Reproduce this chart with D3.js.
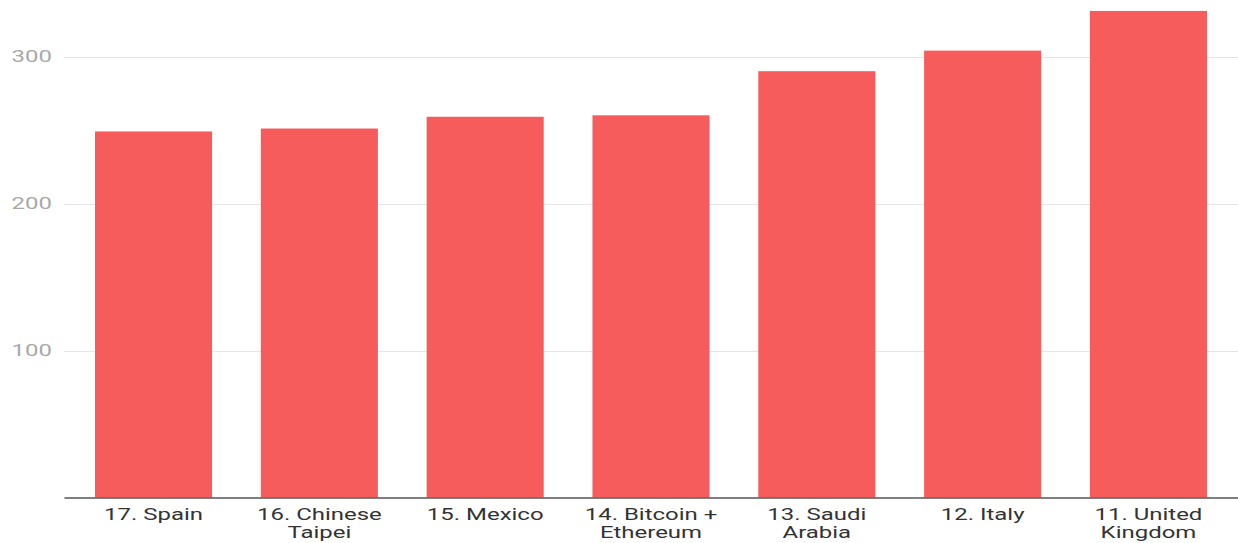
<!DOCTYPE html>
<html>
<head>
<meta charset="utf-8">
<script src="https://cdn.jsdelivr.net/npm/d3@7"></script>
<style>
  body { margin: 0; background: #fff; }
  svg { display: block; font-family: Roboto, sans-serif; }
</style>
</head>
<body>
<svg id="chart"></svg>
<script>
// Categories (label lines split with \n) and values
var categories = [
  "17. Spain",
  "16. Chinese\nTaipei",
  "15. Mexico",
  "14. Bitcoin +\nEthereum",
  "13. Saudi\nArabia",
  "12. Italy",
  "11. United\nKingdom"
];
var values = [249, 251, 259, 260, 290, 304, 331];
var yTicks = [100, 200, 300];

var width = 1238,
  height = 543;

// the original picture is stretched sideways, so text is too
var stretch = 1.41;

var svg = d3.select("#chart")
  .attr("width", width)
  .attr("height", height);

// Scales
var x = d3.scaleBand()
  .domain(categories)
  .range([64, 1238])
  .paddingInner(0.294)
  .paddingOuter(0.187);

var y = d3.scaleLinear()
  .domain([0, 300])
  .range([497.5, 56.5]);

// Gridlines
svg.append("g")
  .selectAll("line")
  .data(yTicks)
  .enter().append("line")
  .attr("x1", 64)
  .attr("x2", width)
  .attr("y1", function(d) { return Math.round(y(d)) + 0.5; })
  .attr("y2", function(d) { return Math.round(y(d)) + 0.5; })
  .attr("stroke", "#e6e6e6")
  .attr("stroke-width", 1);

// Y axis labels
var yAxis = d3.axisLeft(y)
  .tickValues(yTicks)
  .tickSize(0)
  .tickPadding(0);

svg.append("g")
  .attr("transform", "translate(52,0)")
  .call(yAxis)
  .call(function(g) { g.select(".domain").remove(); })
  .selectAll("text")
  .attr("fill", "#a8a8a8")
  .attr("transform", "scale(" + stretch + ",1)")
  .style("font-size", "17px")
  .style("font-family", "Roboto, sans-serif");

// Bars
svg.append("g")
  .selectAll("rect")
  .data(values)
  .enter().append("rect")
  .attr("x", function(d, i) { return x(categories[i]); })
  .attr("y", function(d) { return y(d); })
  .attr("width", x.bandwidth())
  .attr("height", function(d) { return y(0) - y(d); })
  .attr("fill", "#f55c5b");

// X axis
var xAxis = d3.axisBottom(x)
  .tickSize(0)
  .tickPadding(0)
  .tickFormat("");

var xg = svg.append("g")
  .attr("transform", "translate(0," + y(0) + ")")
  .call(xAxis);
xg.select(".domain")
  .attr("stroke", "#555")
  .attr("stroke-width", 1.5);

// Multi-line tick labels
xg.selectAll(".tick text").remove();
xg.selectAll(".tick")
  .append("text")
  .attr("fill", "#333")
  .attr("text-anchor", "middle")
  .attr("transform", "scale(" + stretch + ",1)")
  .style("font-size", "17px")
  .style("font-family", "Roboto, sans-serif")
  .each(function(d) {
    var t = d3.select(this);
    d.split("\n").forEach(function(line, j) {
      t.append("tspan")
        .attr("x", 0)
        .attr("y", 22.5 + j * 18.5)
        .text(line);
    });
  });
</script>
</body>
</html>
